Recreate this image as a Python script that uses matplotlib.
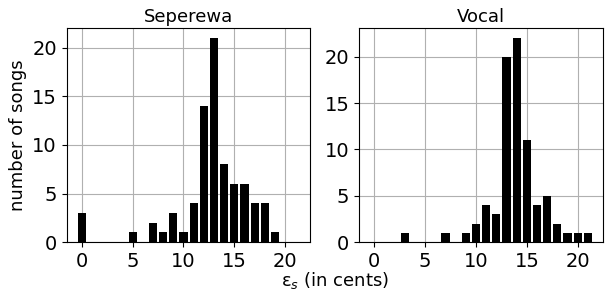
import numpy as np
import matplotlib.pyplot as plt

plt.rcParams['font.size'] = 14

sep_x = [0, 5, 7, 8, 9, 10, 11, 12, 13, 14, 15, 16, 17, 18, 19]
sep_n = [3, 1, 2, 1, 3, 1, 4, 14, 21, 8, 6, 6, 4, 4, 1]

voc_x = [3, 7, 9, 10, 11, 12, 13, 14, 15, 16, 17, 18, 19, 20, 21]
voc_n = [1, 1, 1, 2, 4, 3, 20, 22, 11, 4, 5, 2, 1, 1, 1]

fig, (ax1, ax2) = plt.subplots(1, 2, sharex=True, figsize=(6.06, 2.91), dpi=100)

ax1.bar(sep_x, sep_n, color='black', zorder=3)
ax1.set_title("Seperewa", fontsize=13, pad=4)
ax1.set_ylabel("number of songs", fontsize=13)
ax1.grid(zorder=0)

ax2.bar(voc_x, voc_n, color='black', zorder=3)
ax2.set_title("Vocal", fontsize=13, pad=4)
ax2.grid(zorder=0)

ax1.set_xticks([0, 5, 10, 15, 20])
fig.supxlabel(r"ε$_s$ (in cents)", fontsize=13, x=0.553, y=0.0, va='bottom')
plt.subplots_adjust(left=0.11, right=0.995, top=0.904, bottom=0.168, wspace=0.2)
plt.savefig("out.png")
